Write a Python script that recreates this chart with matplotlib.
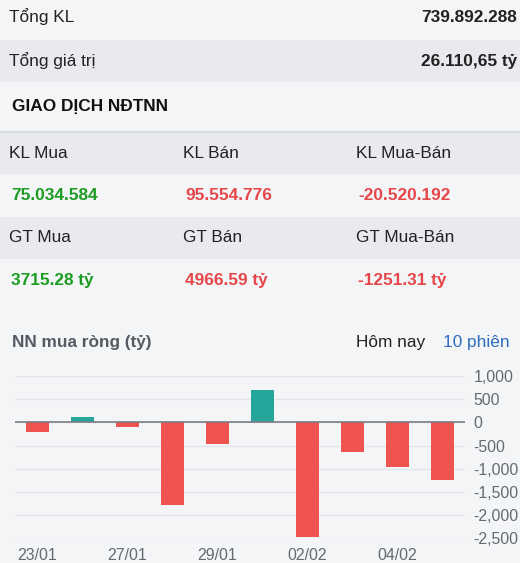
import matplotlib
matplotlib.use("Agg")
import matplotlib.pyplot as plt
from matplotlib.patches import Rectangle

# ---- data ----
summary_labels = ["Tổng KL", "Tổng giá trị"]
summary_values = ["739.892.288", "26.110,65 tỷ"]
section_title = "GIAO DỊCH NĐTNN"
kl_headers = ["KL Mua", "KL Bán", "KL Mua-Bán"]
kl_values = ["75.034.584", "95.554.776", "-20.520.192"]
gt_headers = ["GT Mua", "GT Bán", "GT Mua-Bán"]
gt_values = ["3715.28 tỷ", "4966.59 tỷ", "-1251.31 tỷ"]
chart_title = "NN mua ròng (tỷ)"
tabs = ["Hôm nay", "10 phiên"]
dates = ["23/01", "26/01", "27/01", "28/01", "29/01", "30/01", "02/02", "03/02", "04/02", "05/02"]
net_buy = [-200, 120, -110, -1790, -470, 690, -2470, -635, -960, -1251]
y_ticks = [1000, 500, 0, -500, -1000, -1500, -2000, -2500]

W, H = 520, 563
plt.rcParams['font.family'] = ['Liberation Sans', 'DejaVu Sans']
fig = plt.figure(figsize=(W / 100, H / 100), dpi=100)
fig.patch.set_facecolor("#f4f5f7")

LIGHT = "#f4f5f7"
DARK = "#e8eaee"
GREEN = "#1c9c22"
RED = "#e6474a"
TXT = "#222222"
FS = 12.4


def fx(x):
    return x / W


def fy(y):
    return 1 - y / H


def band(y0, y1, color):
    fig.patches.append(Rectangle((0, fy(y1)), 1, (y1 - y0) / H, transform=fig.transFigure,
                                 facecolor=color, edgecolor="none", zorder=0))


band(40, 82, DARK)
band(132, 174, DARK)
band(217, 259, DARK)
fig.add_artist(plt.Line2D([0, 1], [fy(132), fy(132)], transform=fig.transFigure,
                          color="#d5d8dd", lw=1.2))

# summary rows
for lab, val, yc in zip(summary_labels, summary_values, [17, 61]):
    fig.text(fx(9), fy(yc), lab, fontsize=FS, color=TXT, va="center", ha="left")
    fig.text(fx(517), fy(yc), val, fontsize=FS, color=TXT, va="center", ha="right", fontweight="bold")

fig.text(fx(12), fy(107), section_title, fontsize=FS, color="#111111", va="center", ha="left",
         fontweight="bold")

col_x = [9, 183, 356]
val_colors = [GREEN, RED, RED]
for i in range(3):
    fig.text(fx(col_x[i]), fy(153), kl_headers[i], fontsize=FS, color=TXT, va="center")
    fig.text(fx(col_x[i] + 2), fy(196), kl_values[i], fontsize=FS, color=val_colors[i],
             va="center", fontweight="bold")
    fig.text(fx(col_x[i]), fy(238), gt_headers[i], fontsize=FS, color=TXT, va="center")
    fig.text(fx(col_x[i] + 2), fy(281), gt_values[i], fontsize=FS, color=val_colors[i],
             va="center", fontweight="bold")

# chart header
fig.text(fx(12), fy(343), chart_title, fontsize=FS, color="#555a64", va="center", fontweight="bold")
fig.text(fx(356), fy(343), tabs[0], fontsize=FS, color="#222222", va="center")
fig.text(fx(443), fy(343), tabs[1], fontsize=FS, color="#2f6cbf", va="center")

# bar chart
ax = fig.add_axes([fx(15), fy(538.3), (465 - 15) / W, (538.3 - 376) / H])
ax.set_facecolor(LIGHT)
x = list(range(len(net_buy)))
colors = ["#26a69a" if v >= 0 else "#ef5350" for v in net_buy]
ax.bar(x, net_buy, width=0.5, color=colors, zorder=3)
ax.set_xlim(-0.5, len(net_buy) - 0.5)
ax.set_ylim(-2500, 1000)
ax.set_yticks(y_ticks)
ax.set_yticklabels([f"{v:,}" for v in y_ticks])
ax.yaxis.tick_right()
ax.grid(axis="y", color="#e3e5e9", lw=1, zorder=0)
ax.axhline(0, color="#7a7d82", lw=1.2, zorder=4)
for s in ax.spines.values():
    s.set_visible(False)
ax.tick_params(axis="y", length=0, pad=6, labelsize=11.4, labelcolor="#666a70")
ax.set_xticks(x[::2])
ax.set_xticklabels(dates[::2])
ax.tick_params(axis="x", length=0, pad=7, labelsize=11.4, labelcolor="#666a70")

fig.savefig("out.png", dpi=100, facecolor=fig.get_facecolor())
